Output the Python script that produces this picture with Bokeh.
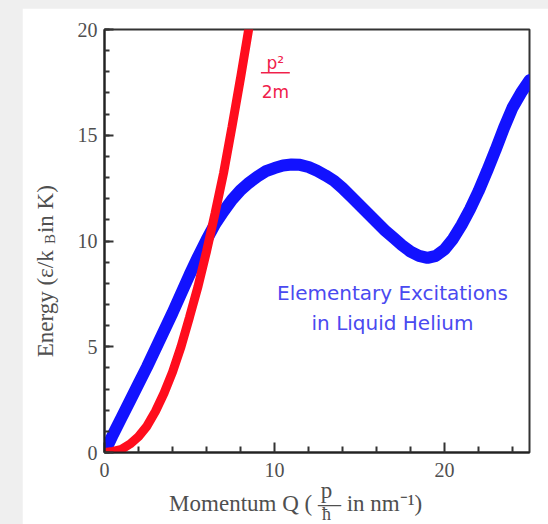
from math import pi
from bokeh.plotting import figure
from bokeh.models import Label, FixedTicker, Range1d
from bokeh.layouts import column
from bokeh.embed import file_html
from bokeh.resources import INLINE

# ---- data ----
q_blue = [0.0, 0.5, 1.0, 1.5, 2.0, 2.5, 3.0, 3.5, 4.0, 4.5, 5.0, 5.5, 6.0, 6.5,
          7.0, 7.5, 8.0, 8.5, 9.0, 9.5, 10.0, 10.5, 11.0, 11.5, 12.0, 12.5,
          13.0, 13.5, 14.0, 14.5, 15.0, 15.5, 16.0, 16.5, 17.0, 17.5, 18.0,
          18.5, 19.0, 19.5, 20.0, 20.5, 21.0, 21.5, 22.0, 22.5, 23.0, 23.5,
          24.0, 24.5, 25.0]
e_blue = [0.0, 0.85, 1.65, 2.45, 3.25, 4.05, 4.9, 5.75, 6.6, 7.5, 8.4, 9.25,
          10.05, 10.8, 11.4, 11.95, 12.4, 12.75, 13.05, 13.3, 13.45, 13.57,
          13.62, 13.6, 13.5, 13.32, 13.1, 12.85, 12.5, 12.1, 11.7, 11.3, 10.9,
          10.5, 10.15, 9.8, 9.5, 9.3, 9.2, 9.3, 9.6, 10.1, 10.75, 11.5, 12.35,
          13.3, 14.3, 15.35, 16.3, 17.0, 17.6]
q_red = [0.0, 0.5, 1.0, 1.5, 2.0, 2.5, 3.0, 3.5, 4.0, 4.5, 5.0, 5.5, 6.0, 6.5,
         7.0, 7.5, 8.0, 8.5]
e_red = [0.0, 0.05, 0.15, 0.4, 0.75, 1.25, 1.95, 2.8, 3.8, 5.0, 6.4, 7.85,
         9.5, 11.3, 13.2, 15.4, 17.7, 20.1]

x_major = [0, 10, 20]
x_minor = [2, 4, 6, 8, 12, 14, 16, 18, 22, 24]
y_major = [0, 5, 10, 15, 20]
y_minor = list(range(0, 21))

curve_label = ["Elementary Excitations", "in Liquid Helium"]
x_title = ["Momentum Q ( — in nm⁻¹)", "p", "ħ"]
y_title = ["Energy (ε/k\u00a0\u00a0\u00a0in K)", "B"]

SERIF = "Liberation Serif"
GRAY = "#4f4f4f"

p = figure(width=526, height=516,
           x_range=Range1d(0, 25), y_range=Range1d(0, 20),
           output_backend="svg", toolbar_location=None,
           min_border_left=82, min_border_right=19, min_border_top=21,
           min_border_bottom=72, background_fill_color="white",
           border_fill_color="white")
p.margin = (8, 0, 0, 22)
p.grid.visible = False
p.outline_line_color = "#333333"
p.outline_line_width = 2

p.line(q_blue, e_blue, line_color="#1212ff", line_width=12, line_cap="round")
p.line(q_red, e_red, line_color="#ff0d1d", line_width=9, line_cap="round")

p.xaxis.ticker = FixedTicker(ticks=x_major, minor_ticks=x_minor)
p.yaxis.ticker = FixedTicker(ticks=y_major, minor_ticks=y_minor)
for ax in (p.xaxis[0], p.yaxis[0]):
    ax.axis_line_color = "#222222"
    ax.axis_line_width = 2
    ax.major_tick_line_color = "#333333"
    ax.minor_tick_line_color = "#333333"
    ax.major_tick_line_width = 2
    ax.minor_tick_line_width = 2
    ax.major_tick_out = 0
    ax.minor_tick_out = 0
    ax.major_label_text_font = SERIF
    ax.major_label_text_font_size = "20px"
    ax.major_label_text_color = GRAY
p.xaxis.major_tick_in = 10
p.xaxis.minor_tick_in = 6
p.yaxis.major_tick_in = 9
p.yaxis.minor_tick_in = 5
p.xaxis.major_label_standoff = 10
p.yaxis.major_label_standoff = 7

def lab(x, y, text, size, color, font, align="left", angle=0.0, place="center"):
    p.add_layout(Label(x=x, y=y, text=text, text_font=font,
                       text_font_size=size, text_color=color,
                       text_align=align, text_baseline="alphabetic",
                       angle=angle), place)

# red fraction p^2 / 2m
RED_T = "#f0204a"
lab(10.05, 18.42, "p²", "17px", RED_T, "DejaVu Sans", "center")
p.segment(x0=[9.2], y0=[17.95], x1=[10.9], y1=[17.95], line_color=RED_T, line_width=1.5)
lab(10.05, 17.05, "2m", "17px", RED_T, "DejaVu Sans", "center")

# blue annotation
BLUE_T = "#4a4af0"
lab(16.94, 7.54, curve_label[0], "20px", BLUE_T, "DejaVu Sans", "center")
lab(16.94, 6.13, curve_label[1], "20px", BLUE_T, "DejaVu Sans", "center")

# axis titles, placed in side panels so that they are not clipped to the frame
lab(3.8, -2.42, x_title[0], "23px", GRAY, SERIF, "left", place="below")
lab(13.06, -1.78, x_title[1], "23px", GRAY, SERIF, "center", place="right")
lab(13.06, -2.9, x_title[2], "18px", GRAY, SERIF, "center", place="above")

lab(-3.47, 4.5, y_title[0], "23px", GRAY, SERIF, "left", pi / 2, place="left")
lab(-3.22, 9.86, y_title[1], "15px", GRAY, SERIF, "left", pi / 2, place="left")

layout = column(p, styles={"background-color": "#efefef"})
open("out.html", "w").write(file_html(layout, INLINE))
